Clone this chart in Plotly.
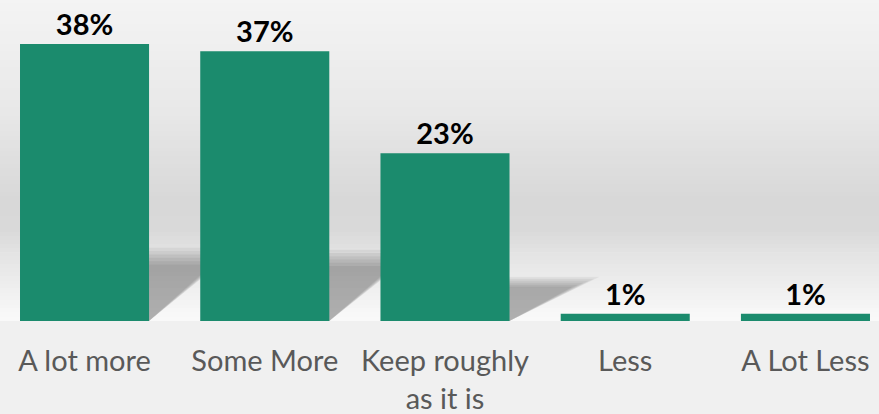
import plotly.graph_objects as go

categories = ["A lot more", "Some More", "Keep roughly<br>as it is", "Less", "A Lot Less"]
values = [38, 37, 23, 1, 1]
labels = ["38%", "37%", "23%", "1%", "1%"]

BAR_COLOR = "#1b8b6d"
BAR_WIDTH = 0.716

fig = go.Figure()
fig.add_trace(go.Bar(
    x=list(range(len(categories))),
    y=values,
    text=labels,
    textposition="outside",
    cliponaxis=False,
    textfont=dict(family="Lato", size=29, color="#000000", weight="bold"),
    marker=dict(color=BAR_COLOR, line=dict(width=0)),
    width=BAR_WIDTH,
    hoverinfo="skip",
))

shapes = []
# background vertical gradient (paper coords)
stops = [(0.0, 244), (0.35, 232), (0.62, 216), (0.72, 217), (0.78, 226), (1.0, 250)]
N = 80
def gray_at(t):
    for (t0, g0), (t1, g1) in zip(stops[:-1], stops[1:]):
        if t0 <= t <= t1:
            return g0 + (g1 - g0) * (t - t0) / (t1 - t0)
    return stops[-1][1]
for k in range(N):
    t = (k + 0.5) / N
    g = int(round(gray_at(t)))
    shapes.append(dict(type="rect", xref="paper", yref="paper", layer="below",
                       x0=0, x1=1, y0=1 - (k + 1) / N, y1=1 - k / N + 0.002,
                       line=dict(width=0), fillcolor=f"rgb({g},{g},{g})"))

# soft cast shadows behind bars (layered translucent parallelograms)
for i, v in enumerate(values):
    if v < 5:
        continue
    base_h = 0.24 * v
    xl, xr = i - BAR_WIDTH / 2, i + BAR_WIDTH / 2
    for f, sk in [(1.10, 0.50), (1.05, 0.47), (1.0, 0.44), (0.95, 0.41), (0.9, 0.38), (0.85, 0.35)]:
        hs = base_h * f
        path = (f"M {xl:.3f},0 L {xr:.3f},0 "
                f"L {xr+sk:.3f},{hs:.3f} "
                f"L {xl+sk:.3f},{hs:.3f} Z")
        shapes.append(dict(type="path", xref="x", yref="y", layer="below",
                           path=path, fillcolor="rgba(0,0,0,0.055)",
                           line=dict(width=0)))

fig.update_layout(
    width=879, height=414,
    margin=dict(l=0, r=0, t=0, b=93),
    paper_bgcolor="#f0f0f0",
    plot_bgcolor="rgba(0,0,0,0)",
    showlegend=False,
    shapes=shapes,
)
fig.update_xaxes(
    range=[-0.469, 4.408],
    tickmode="array",
    tickvals=list(range(len(categories))),
    ticktext=categories,
    tickfont=dict(family="Lato", size=29, color="#595959"),
    showgrid=False, zeroline=False, showline=False, ticks="",
    ticklabelstandoff=20,
)
fig.update_yaxes(range=[0, 44.03], visible=False, showgrid=False, zeroline=False)

fig.write_html("out.html", config={"displayModeBar": False},
               post_script="document.body.style.margin='0';")
